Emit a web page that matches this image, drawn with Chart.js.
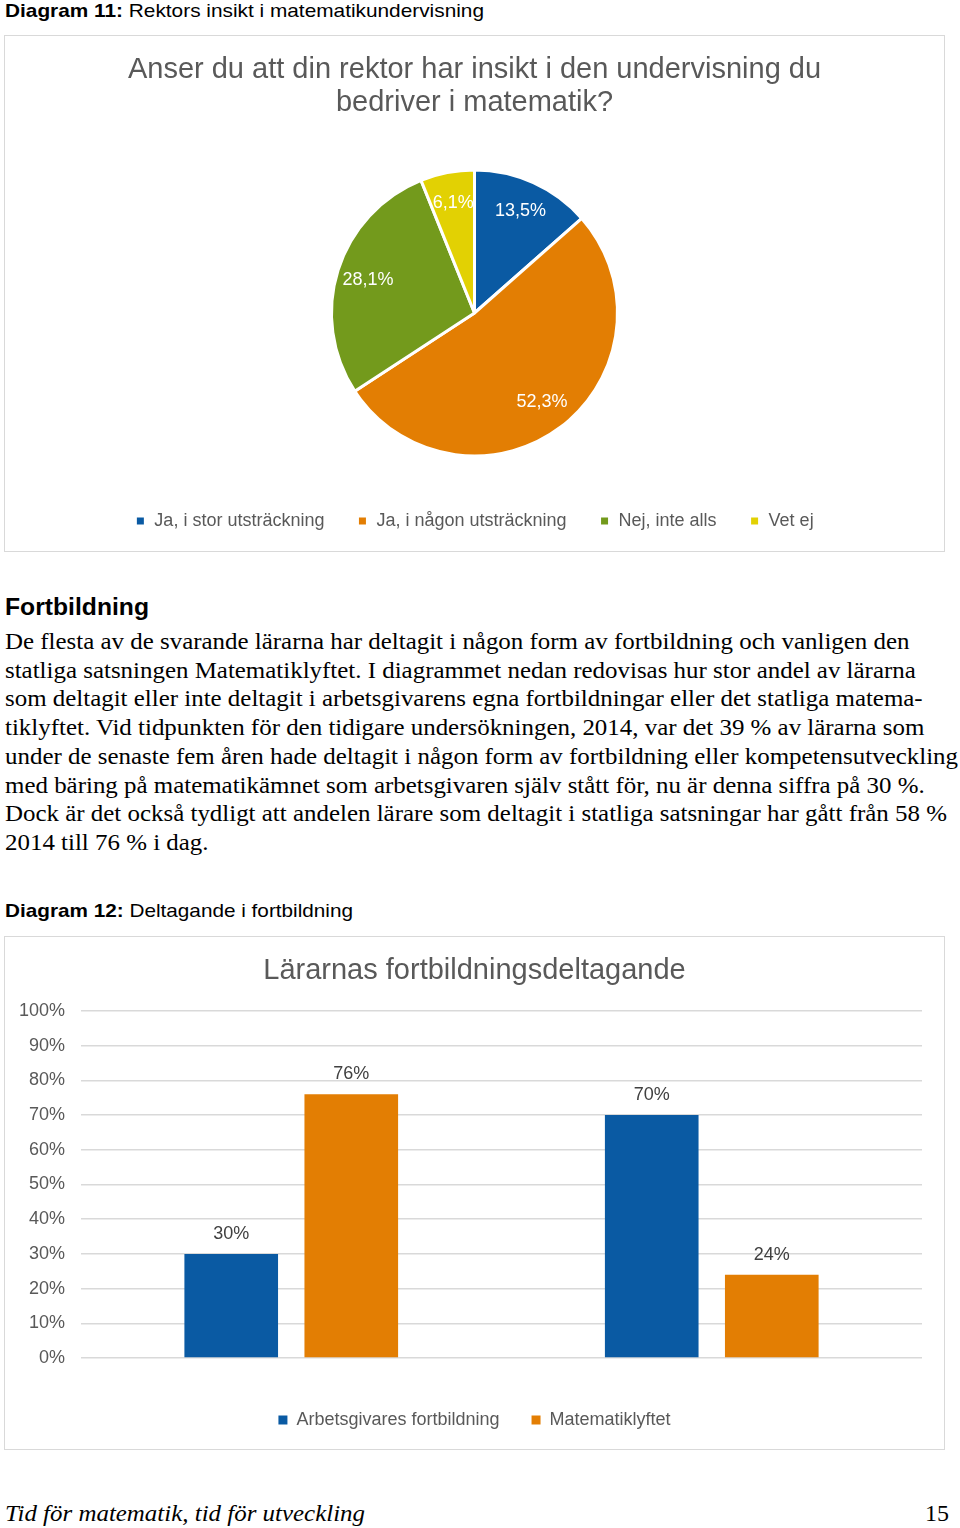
<!DOCTYPE html>
<html lang="sv">
<head>
<meta charset="utf-8">
<title>Diagram 11 och 12</title>
<script src="https://cdn.jsdelivr.net/npm/chart.js@4.4.1/dist/chart.umd.min.js"></script>
<style>
  html, body { margin: 0; padding: 0; background: #fff; }
  body { position: relative; width: 960px; height: 1528px; overflow: hidden; font-family: "Liberation Sans", Arial, sans-serif; color: #000; }
  .abs { position: absolute; white-space: nowrap; transform-origin: left center; }
  .caption { left: 5px; font-size: 19px; line-height: 22px; }
  .heading { left: 5px; top: 593px; font-size: 24px; line-height: 28px; font-weight: bold; }
  .para { left: 5px; top: 628px; font-family: "Liberation Serif", "Times New Roman", serif; font-size: 23px; line-height: 28.7px; transform-origin: left top; }
  .footer { top: 1499px; font-family: "Liberation Serif", "Times New Roman", serif; font-size: 24px; line-height: 28px; font-style: italic; }
  .box { position: absolute; left: 4px; width: 939px; border: 1px solid #d9d9d9; }
  .box canvas { position: absolute; left: 0; top: 0; }
</style>
</head>
<body>

<div class="abs caption fit" data-w="479" style="top:0"><b>Diagram 11:</b> Rektors insikt i matematikundervisning</div>

<div class="box" style="top:35px;height:515px">
  <canvas id="pieChart" width="939" height="515"></canvas>
</div>

<div class="abs heading fit" data-w="144">Fortbildning</div>

<div class="abs para" id="para">
  <div>De flesta av de svarande lärarna har deltagit i någon form av fortbildning och vanligen den</div>
  <div>statliga satsningen Matematiklyftet. I diagrammet nedan redovisas hur stor andel av lärarna</div>
  <div>som deltagit eller inte deltagit i arbetsgivarens egna fortbildningar eller det statliga matema-</div>
  <div>tiklyftet. Vid tidpunkten för den tidigare undersökningen, 2014, var det 39 % av lärarna som</div>
  <div id="longLine">under de senaste fem åren hade deltagit i någon form av fortbildning eller kompetensutveckling</div>
  <div>med bäring på matematikämnet som arbetsgivaren själv stått för, nu är denna siffra på 30 %.</div>
  <div>Dock är det också tydligt att andelen lärare som deltagit i statliga satsningar har gått från 58 %</div>
  <div>2014 till 76 % i dag.</div>
</div>

<div class="abs caption fit" data-w="348" style="top:900px"><b>Diagram 12:</b> Deltagande i fortbildning</div>

<div class="box" style="top:936px;height:512px">
  <canvas id="barChart" width="939" height="512"></canvas>
</div>

<div class="abs footer fit" data-w="360" style="left:5px">Tid för matematik, tid för utveckling</div>
<div class="abs footer" style="left:925px;font-style:normal">15</div>

<script>
// Diagram 11
const pieTitle = ['Anser du att din rektor har insikt i den undervisning du', 'bedriver i matematik?'];
const pieLabels = ['Ja, i stor utsträckning', 'Ja, i någon utsträckning', 'Nej, inte alls', 'Vet ej'];
const pieValues = [13.5, 52.3, 28.1, 6.1];
const pieColors = ['#0a5aa3', '#e37e03', '#739a1c', '#e2d103'];

// Diagram 12
const barTitle = 'Lärarnas fortbildningsdeltagande';
const barCategories = ['Ja', 'Nej'];
const employerValues = [30, 70];
const liftValues = [76, 24];
const barSeries = ['Arbetsgivares fortbildning', 'Matematiklyftet'];
const barColors = ['#0a5aa3', '#e37e03'];
const yTicks = [0, 10, 20, 30, 40, 50, 60, 70, 80, 90, 100];

const grey = '#595959';
Chart.defaults.font.family = '"Liberation Sans", Arial, sans-serif';
Chart.defaults.color = grey;

const fmtPct = v => v.toFixed(1).replace('.', ',') + '%';

// value labels, inside the slices for the pie, above the bars for the bar chart
const valueLabels = {
  id: 'valueLabels',
  afterDatasetsDraw(chart) {
    const ctx = chart.ctx;
    ctx.save();
    ctx.font = '18px "Liberation Sans", Arial, sans-serif';
    ctx.textAlign = 'center';
    ctx.textBaseline = 'middle';
    chart.data.datasets.forEach((ds, i) => {
      chart.getDatasetMeta(i).data.forEach((el, j) => {
        const v = ds.data[j];
        if (chart.config.type === 'pie') {
          const mid = (el.startAngle + el.endAngle) / 2;
          const r = el.outerRadius * 0.78;
          ctx.fillStyle = '#fff';
          ctx.fillText(fmtPct(v), el.x + Math.cos(mid) * r, el.y + Math.sin(mid) * r);
        } else {
          ctx.fillStyle = '#404040';
          ctx.fillText(v + '%', el.x, el.y - 20);
        }
      });
    });
    ctx.restore();
  }
};

new Chart(document.getElementById('pieChart'), {
  type: 'pie',
  data: {
    labels: pieLabels,
    datasets: [{
      data: pieValues,
      backgroundColor: pieColors,
      borderColor: '#fff',
      borderWidth: 3
    }]
  },
  options: {
    responsive: false,
    animation: false,
    radius: 143,
    layout: { padding: { bottom: 11 } },
    plugins: {
      title: {
        display: true,
        text: pieTitle,
        color: grey,
        font: { size: 29, weight: 'normal', lineHeight: 1.15 },
        padding: { top: 17, bottom: 27.3 }
      },
      legend: {
        position: 'bottom',
        labels: { boxWidth: 10, boxHeight: 10, padding: 33, color: grey, font: { size: 18 } }
      },
      tooltip: { enabled: false }
    }
  },
  plugins: [valueLabels]
});

new Chart(document.getElementById('barChart'), {
  type: 'bar',
  data: {
    labels: barCategories,
    datasets: [
      { label: barSeries[0], data: employerValues, backgroundColor: barColors[0] },
      { label: barSeries[1], data: liftValues, backgroundColor: barColors[1] }
    ]
  },
  options: {
    responsive: false,
    animation: false,
    categoryPercentage: 0.571,
    barPercentage: 0.78,
    layout: { padding: { bottom: 10 } },
    plugins: {
      title: {
        display: true,
        text: barTitle,
        color: grey,
        font: { size: 29, weight: 'normal', lineHeight: 1.15 },
        padding: { top: 17, bottom: 23.65 }
      },
      legend: {
        position: 'bottom',
        labels: { boxWidth: 9, boxHeight: 9, padding: 32, color: grey, font: { size: 18 } }
      },
      tooltip: { enabled: false }
    },
    scales: {
      x: {
        grid: { display: false },
        border: { display: false },
        ticks: { color: grey, font: { size: 18 }, padding: 12 },
        afterFit: s => { s.height = 21; }
      },
      y: {
        min: 0,
        max: 100,
        afterBuildTicks: s => { s.ticks = yTicks.map(v => ({ value: v })); },
        ticks: { callback: v => v + '%', color: grey, font: { size: 18 }, padding: 16 },
        grid: { color: '#d9d9d9', lineWidth: 1.5, drawTicks: false },
        border: { display: false },
        afterFit: s => { s.width = 76; }
      },
      // empty right axis, keeps the plot off the right edge without shifting title and legend
      yRight: {
        position: 'right',
        min: 0,
        max: 100,
        grid: { display: false },
        border: { display: false },
        ticks: { display: false },
        afterFit: s => { s.width = 22; }
      }
    }
  },
  plugins: [valueLabels]
});

// squeeze the page text to the widths of the original layout
function fitText() {
  document.querySelectorAll('.fit').forEach(el => {
    const w = el.getBoundingClientRect().width;
    el.style.transform = 'scaleX(' + (parseFloat(el.dataset.w) / w) + ')';
  });
  const para = document.getElementById('para');
  const long = document.getElementById('longLine');
  long.style.display = 'inline-block';
  const lw = long.getBoundingClientRect().width;
  long.style.display = '';
  para.style.transform = 'scaleX(' + (953 / lw) + ')';
}
fitText();
</script>
</body>
</html>
